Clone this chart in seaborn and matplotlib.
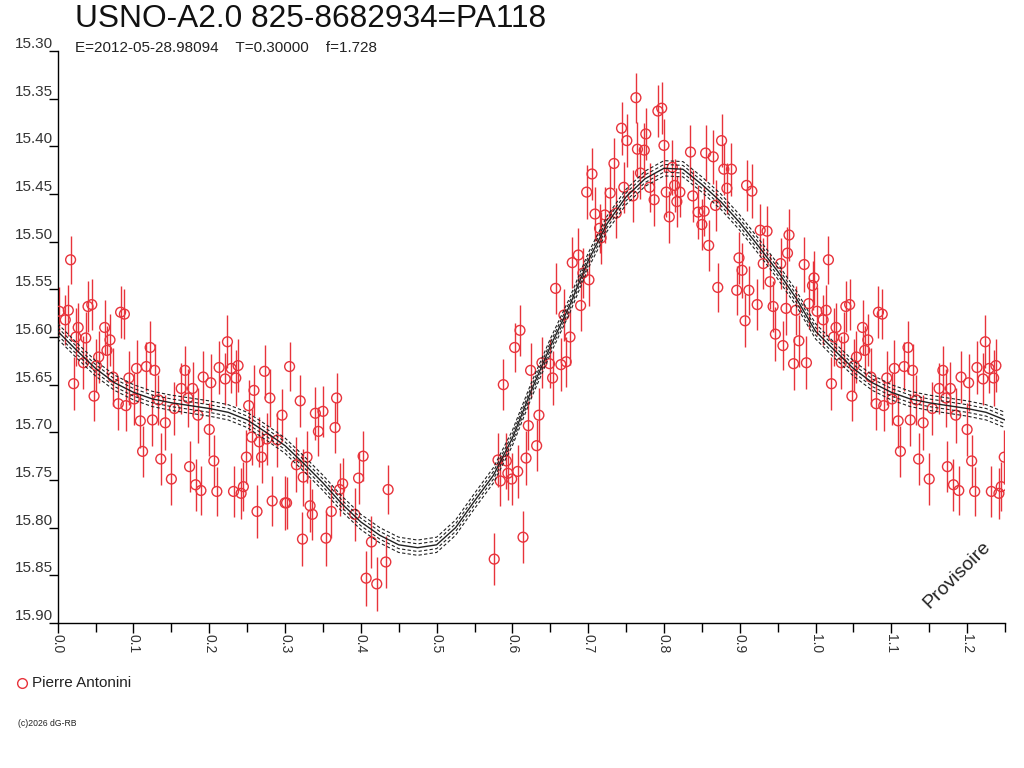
import matplotlib
matplotlib.use("Agg")
import matplotlib.pyplot as plt
import seaborn as sns
import numpy as np
import pandas as pd

TITLE = "USNO-A2.0 825-8682934=PA118"
SUBTITLE = "E=2012-05-28.98094    T=0.30000    f=1.728"
OBSERVER = "Pierre Antonini"
WATERMARK = "Provisoire"
COPYRIGHT = "(c)2026 dG-RB"

# folded phase, magnitude, error (phase 0..1, copied to 1..1.25 when drawn)
phase = [
    0.002, 0.010, 0.014, 0.017, 0.021, 0.024, 0.027, 0.034, 0.037, 0.040,
    0.045, 0.048, 0.051, 0.054, 0.062, 0.065, 0.069, 0.073, 0.080, 0.083,
    0.088, 0.090, 0.094, 0.101, 0.104, 0.109, 0.112, 0.117, 0.122, 0.125,
    0.128, 0.133, 0.136, 0.142, 0.150, 0.154, 0.163, 0.168, 0.172, 0.174,
    0.178, 0.182, 0.185, 0.189, 0.192, 0.200, 0.202, 0.206, 0.210, 0.213,
    0.221, 0.224, 0.229, 0.232, 0.235, 0.238, 0.242, 0.245, 0.249, 0.252,
    0.256, 0.259, 0.263, 0.266, 0.269, 0.273, 0.276, 0.280, 0.283, 0.290,
    0.296, 0.300, 0.302, 0.306, 0.315, 0.320, 0.323, 0.324, 0.329, 0.333,
    0.336, 0.340, 0.344, 0.350, 0.354, 0.361, 0.366, 0.368, 0.372, 0.376,
    0.392, 0.397, 0.403, 0.407, 0.414, 0.421, 0.433, 0.436,
    0.576, 0.581, 0.584, 0.588, 0.592, 0.594, 0.599, 0.603, 0.607, 0.610,
    0.614, 0.618, 0.621, 0.624, 0.632, 0.635, 0.639, 0.649, 0.653, 0.657,
    0.664, 0.668, 0.671, 0.676, 0.679, 0.687, 0.690, 0.693, 0.698, 0.701,
    0.705, 0.709, 0.715, 0.717, 0.722, 0.729, 0.734, 0.737, 0.744, 0.747,
    0.751, 0.759, 0.763, 0.765, 0.769, 0.774, 0.776, 0.781, 0.787, 0.792,
    0.797, 0.800, 0.803, 0.807, 0.811, 0.814, 0.817, 0.821, 0.835, 0.838,
    0.845, 0.850, 0.853, 0.855, 0.859, 0.865, 0.868, 0.871, 0.876, 0.879,
    0.883, 0.889, 0.896, 0.899, 0.903, 0.907, 0.909, 0.912, 0.916, 0.923,
    0.927, 0.931, 0.936, 0.940, 0.944, 0.947, 0.954, 0.957, 0.961, 0.963,
    0.965, 0.971, 0.974, 0.978, 0.985, 0.988, 0.991, 0.996, 0.998,
]
mag = [
    15.573, 15.582, 15.572, 15.519, 15.649, 15.600, 15.590, 15.627, 15.601, 15.568,
    15.566, 15.662, 15.630, 15.621, 15.590, 15.614, 15.603, 15.642, 15.670, 15.574,
    15.576, 15.672, 15.643, 15.665, 15.633, 15.688, 15.720, 15.631, 15.611, 15.687,
    15.635, 15.666, 15.728, 15.690, 15.749, 15.675, 15.654, 15.635, 15.664, 15.736,
    15.654, 15.755, 15.682, 15.761, 15.642, 15.697, 15.648, 15.730, 15.762, 15.632,
    15.644, 15.605, 15.633, 15.762, 15.643, 15.630, 15.764, 15.757, 15.726, 15.672,
    15.705, 15.656, 15.783, 15.710, 15.726, 15.636, 15.707, 15.664, 15.772, 15.708,
    15.682, 15.774, 15.774, 15.631, 15.734, 15.667, 15.812, 15.747, 15.726, 15.777,
    15.786, 15.680, 15.699, 15.678, 15.811, 15.783, 15.695, 15.664, 15.760, 15.754,
    15.786, 15.748, 15.725, 15.853, 15.815, 15.859, 15.836, 15.760,
    15.833, 15.729, 15.751, 15.650, 15.730, 15.743, 15.749, 15.611, 15.741, 15.593,
    15.810, 15.727, 15.693, 15.635, 15.714, 15.682, 15.627, 15.628, 15.643, 15.549,
    15.629, 15.577, 15.626, 15.600, 15.522, 15.514, 15.567, 15.533, 15.448, 15.540,
    15.429, 15.471, 15.486, 15.496, 15.472, 15.449, 15.418, 15.470, 15.381, 15.443,
    15.394, 15.452, 15.349, 15.403, 15.428, 15.404, 15.387, 15.443, 15.456, 15.363,
    15.360, 15.399, 15.448, 15.474, 15.422, 15.441, 15.458, 15.448, 15.406, 15.452,
    15.469, 15.482, 15.468, 15.407, 15.504, 15.411, 15.462, 15.548, 15.394, 15.424,
    15.444, 15.424, 15.551, 15.517, 15.530, 15.583, 15.441, 15.551, 15.447, 15.566,
    15.488, 15.523, 15.489, 15.542, 15.568, 15.597, 15.523, 15.609, 15.570, 15.512,
    15.493, 15.628, 15.572, 15.604, 15.524, 15.627, 15.565, 15.546, 15.538,
]
err = [
    .025, .026, .027, .025, .028, .030, .026, .028, .027, .027,
    .027, .026, .028, .027, .029, .026, .027, .030, .028, .027,
    .026, .027, .028, .027, .030, .028, .027, .026, .028, .027,
    .028, .026, .027, .029, .027, .028, .027, .026, .030, .027,
    .028, .027, .029, .026, .027, .028, .030, .027, .026, .028,
    .027, .028, .026, .027, .029, .028, .027, .026, .028, .027,
    .029, .027, .028, .026, .027, .028, .027, .030, .026, .028,
    .027, .028, .027, .026, .029, .027, .028, .030, .027, .028,
    .027, .028, .026, .027, .029, .028, .027, .026, .028, .027,
    .028, .027, .026, .029, .027, .028, .027, .026,
    .027, .028, .026, .027, .029, .028, .027, .026, .028, .027,
    .027, .028, .026, .029, .027, .028, .027, .026, .028, .027,
    .028, .027, .026, .029, .027, .028, .027, .026, .028, .027,
    .027, .028, .026, .027, .029, .028, .027, .026, .028, .027,
    .028, .027, .026, .029, .027, .028, .027, .026, .028, .027,
    .027, .028, .026, .027, .029, .028, .027, .026, .028, .027,
    .028, .027, .026, .029, .027, .028, .027, .026, .028, .027,
    .027, .028, .026, .027, .029, .028, .027, .026, .028, .027,
    .028, .027, .026, .029, .027, .028, .027, .026, .028, .027,
    .027, .028, .026, .027, .029, .028, .027, .026, .028,
]

# fitted light curve, read every 0.025 in phase
fit_phase = [
    0.000, 0.025, 0.050, 0.075, 0.100, 0.125, 0.150, 0.175, 0.200, 0.225,
    0.250, 0.275, 0.300, 0.325, 0.350, 0.375, 0.400, 0.425, 0.450, 0.475,
    0.500, 0.525, 0.550, 0.575, 0.600, 0.625, 0.650, 0.675, 0.700, 0.725,
    0.750, 0.775, 0.800, 0.825, 0.850, 0.875, 0.900, 0.925, 0.950, 0.975,
    1.000,
]
fit_mag = [
    15.594, 15.614, 15.633, 15.648, 15.658, 15.665, 15.669, 15.672, 15.675, 15.679,
    15.687, 15.700, 15.714, 15.733, 15.753, 15.775, 15.794, 15.808, 15.818, 15.821,
    15.818, 15.800, 15.772, 15.745, 15.706, 15.656, 15.610, 15.568, 15.520, 15.481,
    15.453, 15.434, 15.423, 15.424, 15.440, 15.458, 15.480, 15.505, 15.531, 15.560,
    15.594,
]
band_offsets = [0.004, 0.008]

RED = "#e8333b"
INK = "#222222"

assert len(phase) == len(mag) == len(err)

obs = pd.DataFrame({"phase": phase, "mag": mag, "err": err})
wrap = obs[obs["phase"] <= 0.25].assign(phase=lambda d: d["phase"] + 1.0)
pts = pd.concat([obs, wrap], ignore_index=True)

fit = pd.DataFrame({"phase": fit_phase, "mag": fit_mag})
fit_wrap = fit[(fit["phase"] > 0) & (fit["phase"] <= 0.25)].assign(phase=lambda d: d["phase"] + 1.0)
fit = pd.concat([fit, fit_wrap], ignore_index=True)

sns.set_theme(style="white")
plt.rcParams["font.family"] = ["Liberation Sans", "DejaVu Sans"]

fig = plt.figure(figsize=(10.24, 7.68), dpi=100)
ax = fig.add_axes([57.7 / 1024, 1 - 623 / 768, (1005 - 57.7) / 1024, (623 - 51) / 768])

ax.errorbar(pts["phase"], pts["mag"], yerr=pts["err"], fmt="none",
            ecolor=RED, elinewidth=1.0, capsize=0, zorder=2)
sns.scatterplot(data=pts, x="phase", y="mag", ax=ax, marker="o", s=50,
                facecolor="none", edgecolor=RED, linewidth=1.0, zorder=3, legend=False)

sns.lineplot(data=fit, x="phase", y="mag", ax=ax, sort=False, color=INK, lw=1.0, zorder=4)
for off in band_offsets:
    for sgn in (-1, 1):
        ax.plot(fit["phase"], fit["mag"] + sgn * off, color=INK, lw=0.8,
                ls=(0, (3, 2)), zorder=4)

ax.set_xlim(0, 1.25)
ax.set_ylim(15.90, 15.30)
ax.set_xlabel("")
ax.set_ylabel("")

yt = np.round(np.arange(15.30, 15.901, 0.05), 2)
ax.set_yticks(yt)
ax.set_yticklabels([f"{v:.2f}" for v in yt], fontsize=11, color="#333333")
xt = np.round(np.arange(0, 1.21, 0.1), 1)
ax.set_xticks(xt)
ax.set_xticklabels([f"{v:.1f}" for v in xt], rotation=-90, fontsize=10, color="#333333")
ax.set_xticks(np.arange(0.05, 1.26, 0.1), minor=True)

ax.tick_params(axis="y", which="major", left=True, direction="out", length=6.5, width=1,
               color="black", pad=-3)
ax.tick_params(axis="x", which="major", bottom=True, direction="out", length=7, width=1,
               color="black", pad=1)
ax.tick_params(axis="x", which="minor", bottom=True, direction="out", length=6.5, width=1,
               color="black")
for lab in ax.get_yticklabels():
    lab.set_verticalalignment("bottom")

for side in ("top", "right"):
    ax.spines[side].set_visible(False)
for side in ("left", "bottom"):
    ax.spines[side].set_color("black")
    ax.spines[side].set_linewidth(1.0)
ax.grid(False)

fig.text(75 / 1024, 1 - 19 / 768, TITLE, fontsize=22.8, va="center", ha="left",
         color="#111111")
fig.text(75 / 1024, 1 - 48 / 768, SUBTITLE, fontsize=11, va="center", ha="left",
         color="#222222")

fig.lines.append(plt.Line2D([22 / 1024], [1 - 683 / 768], marker="o", ms=7,
                            mfc="none", mec=RED, mew=1.0, transform=fig.transFigure))
fig.text(32 / 1024, 1 - 683 / 768, OBSERVER, fontsize=11, va="center", ha="left",
         color="#222222")
fig.text(957 / 1024, 1 - 575 / 768, WATERMARK, fontsize=14, rotation=45,
         ha="center", va="center", color=INK)
fig.text(18 / 1024, 1 - 724 / 768, COPYRIGHT, fontsize=6.2, va="center", ha="left",
         color="#222222")

fig.savefig("out.png", dpi=100)
